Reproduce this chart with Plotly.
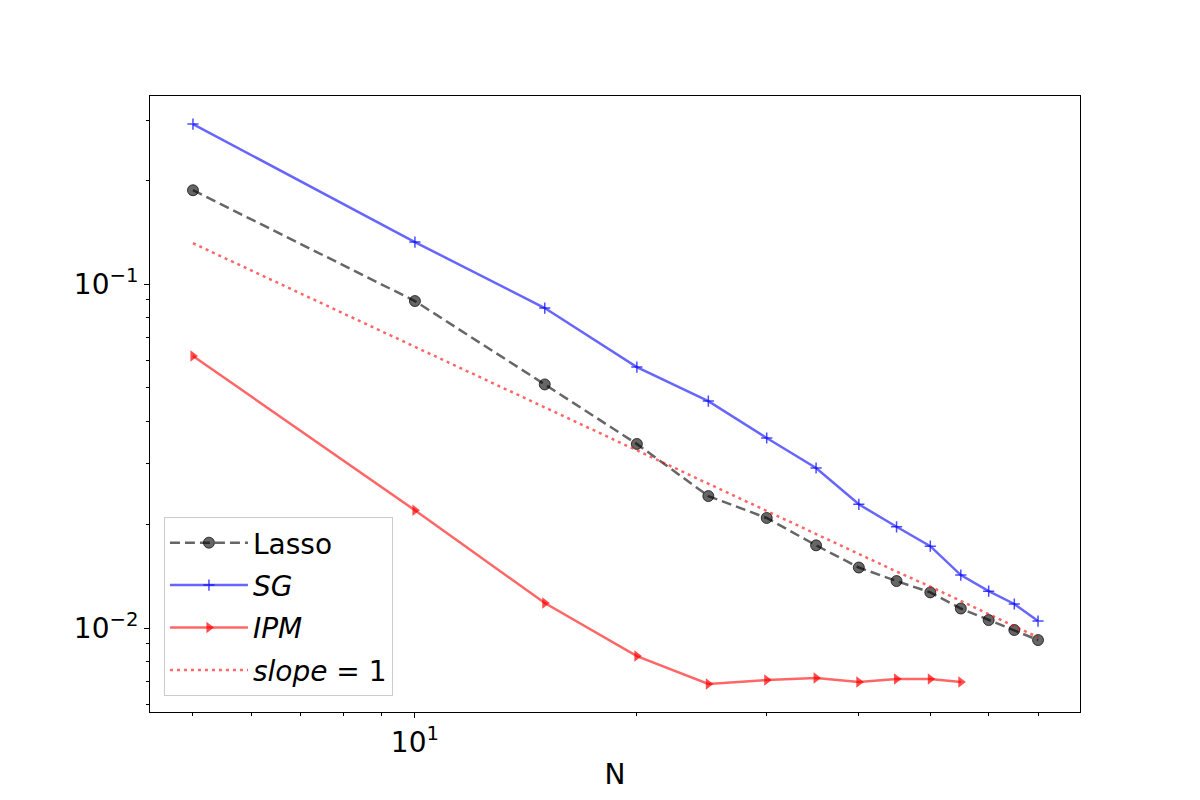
import plotly.graph_objects as go

n_values = [5, 10, 15, 20, 25, 30, 35, 40, 45, 50, 55, 60, 65, 70]
lasso_err = [0.1875, 0.0893, 0.0511, 0.0343, 0.0242, 0.0209, 0.0174, 0.0150,
             0.0137, 0.0127, 0.0114, 0.01055, 0.00987, 0.00923]
sg_err = [0.292, 0.1325, 0.0852, 0.0574, 0.0457, 0.0357, 0.0292, 0.0229,
          0.0197, 0.0173, 0.01426, 0.0128, 0.01175, 0.01048]
ipm_n = [5, 10, 15, 20, 25, 30, 35, 40, 45, 50, 55]
ipm_err = [0.0618, 0.0220, 0.01183, 0.00829, 0.00688, 0.00706, 0.00716,
           0.00697, 0.00711, 0.00711, 0.00697]
slope_ref = [0.1315, 0.0658, 0.0438, 0.0329, 0.0263, 0.0219, 0.0188, 0.0164,
             0.0146, 0.0132, 0.0120, 0.0110, 0.0101, 0.0094]

x_major = [10]
x_major_text = ['10<sup>1</sup>']
x_minor = [5, 6, 7, 8, 9, 20, 30, 40, 50, 60, 70]
y_major = [0.01, 0.1]
y_major_text = ['10<sup>\u22122</sup>', '10<sup>\u22121</sup>']
y_minor = [0.006, 0.007, 0.008, 0.009, 0.02, 0.03, 0.04, 0.05, 0.06, 0.07,
           0.08, 0.09, 0.2, 0.3]

fig = go.Figure()

fig.add_trace(go.Scatter(
    x=n_values, y=lasso_err, name='Lasso', mode='lines+markers',
    legendgroup='a',
    line=dict(color='rgba(0,0,0,0.6)', width=2.5, dash='10px,5px'),
    marker=dict(symbol='circle', size=11, color='rgba(0,0,0,0.6)',
                line=dict(color='rgba(0,0,0,0.7)', width=1)),
))
fig.add_trace(go.Scatter(
    x=n_values, y=sg_err, name='<i>SG</i>', mode='lines+markers',
    legendgroup='b',
    line=dict(color='rgba(0,0,255,0.6)', width=2.5),
    marker=dict(symbol='cross-thin', size=8,
                line=dict(color='rgba(0,0,255,0.7)', width=1.5)),
))
fig.add_trace(go.Scatter(
    x=ipm_n, y=ipm_err, name='<i>IPM</i>', mode='lines+markers',
    legendgroup='c',
    line=dict(color='rgba(255,0,0,0.6)', width=2.5),
    marker=dict(symbol='triangle-right', size=10, color='rgba(255,0,0,0.7)'),
))
fig.add_trace(go.Scatter(
    x=n_values, y=slope_ref, name='<i>slope</i> = 1', mode='lines',
    legendgroup='d',
    line=dict(color='rgba(255,0,0,0.6)', width=2.5, dash='3px,4px'),
))

axis_common = dict(
    type='log', showgrid=False, zeroline=False,
    showline=True, mirror=True, linecolor='black', linewidth=1,
    ticks='outside', ticklen=5, tickwidth=1, tickcolor='black',
    tickfont=dict(size=28, color='black'),
)

fig.update_xaxes(
    **axis_common,
    range=[0.6407, 1.902],
    tickmode='array', tickvals=x_major, ticktext=x_major_text,
    minor=dict(tickmode='array', tickvals=x_minor, ticks='outside',
               ticklen=3, tickcolor='black'),
    title=dict(text='N', font=dict(size=28, color='black'), standoff=6),
)
fig.update_yaxes(
    **axis_common,
    range=[-2.244, -0.453],
    tickmode='array', tickvals=y_major, ticktext=y_major_text,
    minor=dict(tickmode='array', tickvals=y_minor, ticks='outside',
               ticklen=3, tickcolor='black'),
)

fig.update_layout(
    width=1200, height=800,
    margin=dict(l=142, r=128, t=88, b=96),
    plot_bgcolor='white', paper_bgcolor='white',
    font=dict(family='DejaVu Sans', color='black'),
    legend=dict(
        x=0.015, y=0.026, xanchor='left', yanchor='bottom',
        font=dict(size=28, color='black'),
        bordercolor='#cccccc', borderwidth=1,
        bgcolor='rgba(255,255,255,0.8)',
        traceorder='grouped', tracegroupgap=3,
        itemwidth=78,
    ),
)

fig.write_html("out.html")
